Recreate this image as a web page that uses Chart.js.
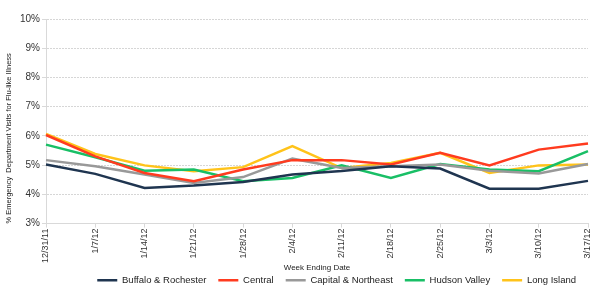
<!DOCTYPE html>
<html>
<head>
<meta charset="utf-8">
<script src="https://cdn.jsdelivr.net/npm/chart.js@4.4.0/dist/chart.umd.min.js"></script>
<style>
	body { margin: 0; background: #fff; }
	#wrap { width: 600px; height: 300px; }
</style>
</head>
<body>
<div id="wrap"><canvas id="myChart" width="600" height="300"></canvas></div>
<script>
const weeks = ["12/31/11", "1/7/12", "1/14/12", "1/21/12", "1/28/12", "2/4/12", "2/11/12", "2/18/12", "2/25/12", "3/3/12", "3/10/12", "3/17/12"]

const buffalo = [5.02, 4.7, 4.22, 4.3, 4.42, 4.68, 4.8, 4.96, 4.88, 4.19, 4.19, 4.46]
const central = [6.03, 5.3, 4.73, 4.45, 4.85, 5.17, 5.17, 5.02, 5.42, 4.99, 5.53, 5.74]
const capital = [5.17, 4.96, 4.68, 4.39, 4.59, 5.22, 4.9, 4.96, 5.02, 4.81, 4.71, 5.04]
const hudson = [5.7, 5.27, 4.81, 4.85, 4.45, 4.56, 4.99, 4.56, 5.04, 4.85, 4.79, 5.48]
const longIsland = [6.07, 5.38, 4.99, 4.79, 4.93, 5.65, 4.9, 5.07, 5.42, 4.73, 4.99, 5.02]

const yTicks = [3, 4, 5, 6, 7, 8, 9, 10]

function series(label, data, color) {
	return {
		label: label,
		data: data,
		borderColor: color,
		backgroundColor: color,
		borderWidth: 2.5,
		pointRadius: 0,
		tension: 0,
		fill: false
	}
}

Chart.defaults.font.family = "'Liberation Sans', Arial, sans-serif"
Chart.defaults.color = "#333"

new Chart("myChart", {
	type: "line",
	data: {
		labels: weeks,
		datasets: [
			series("Buffalo & Rochester", buffalo, "#1f3550"),
			series("Central", central, "#ff3b1f"),
			series("Capital & Northeast", capital, "#999999"),
			series("Hudson Valley", hudson, "#19bf66"),
			series("Long Island", longIsland, "#ffc31a")
		]
	},
	options: {
		responsive: false,
		animation: false,
		layout: { padding: { left: 4, right: 12, top: 19, bottom: 5 } },
		plugins: {
			legend: {
				position: "bottom",
				align: "end",
				labels: {
					usePointStyle: true,
					pointStyle: "line",
					pointStyleWidth: 20,
					boxHeight: 10,
					padding: 12,
					font: { size: 9.5 },
					color: "#222"
				}
			},
			tooltip: { enabled: false }
		},
		scales: {
			x: {
				grid: {
					drawOnChartArea: false,
					drawTicks: true,
					tickLength: 4,
					color: "#d9d9d9"
				},
				border: { color: "#d9d9d9" },
				ticks: {
					minRotation: 90,
					maxRotation: 90,
					font: { size: 9 },
					color: "#333",
					padding: 1
				},
				title: {
					display: true,
					text: "Week Ending Date",
					font: { size: 8 },
					color: "#222",
					// pulled up so it sits under the date labels like the original
					padding: { top: -1, bottom: -9 }
				}
			},
			y: {
				min: 3,
				max: 10,
				afterBuildTicks: (axis) => {
					axis.ticks = yTicks.map(v => ({ value: v }))
				},
				grid: {
					color: "#d6d6d6",
					tickLength: 4,
					tickColor: "#d9d9d9"
				},
				border: { color: "#d9d9d9", dash: [2, 1] },
				ticks: {
					callback: (v) => v + "%",
					font: { size: 10 },
					color: "#333",
					padding: 2
				},
				title: {
					display: true,
					align: "start",
					text: "% Emergency  Department Visits for Flu-like Illness",
					font: { size: 7.5 },
					color: "#222",
					padding: { top: 0, bottom: 5 }
				}
			}
		}
	}
})
</script>
</body>
</html>
